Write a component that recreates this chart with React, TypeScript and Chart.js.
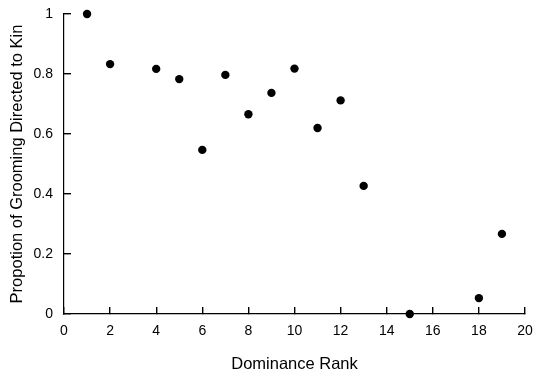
import React, { useEffect, useRef } from "react";
import { Chart, registerables } from "chart.js";

Chart.register(...registerables);

const ranks = [1, 2, 4, 5, 6, 7, 8, 9, 10, 11, 12, 13, 15, 18, 19];
const proportions = [1.0, 0.833, 0.817, 0.783, 0.547, 0.797, 0.666, 0.737, 0.818, 0.62, 0.712, 0.427, 0.0, 0.053, 0.267];
const xTickValues = [0, 2, 4, 6, 8, 10, 12, 14, 16, 18, 20];
const yTickValues = [0, 0.2, 0.4, 0.6, 0.8, 1];
const yTickLabels = ["0", "0.2", "0.4", "0.6", "0.8", "1"];
const xTitle = "Dominance Rank";
const yTitle = "Propotion of Grooming Directed to Kin";

const FONT = "'Liberation Sans', Arial, sans-serif";

const gridOpts = {
  display: true,
  drawOnChartArea: false,
  drawTicks: true,
  tickLength: -7,
  color: "#000",
  tickColor: "#000",
  tickWidth: 1.4,
  lineWidth: 1.4,
};

export default function App() {
  const ref = useRef<HTMLCanvasElement>(null);
  useEffect(() => {
    document.body.style.margin = "0";
    const chart = new Chart(ref.current!, {
      type: "scatter",
      data: {
        datasets: [
          {
            data: ranks.map((r, i) => ({ x: r, y: proportions[i] })),
            backgroundColor: "#000",
            borderColor: "#000",
            borderWidth: 0,
            pointRadius: 4.2,
            clip: false,
          } as any,
        ],
      },
      options: {
        animation: false,
        responsive: false,
        maintainAspectRatio: false,
        layout: { padding: { top: 14, right: 8, left: 0, bottom: 0 } },
        plugins: { legend: { display: false }, tooltip: { enabled: false } },
        scales: {
          x: {
            type: "linear",
            min: 0,
            max: 20,
            afterFit: (s: any) => {
              s.height = 60;
              s.paddingLeft = 0;
              s.paddingRight = 0;
            },
            afterBuildTicks: (s: any) => { s.ticks = xTickValues.map((v) => ({ value: v })); },
            grid: gridOpts,
            border: { display: true, color: "#000", width: 1.2 },
            ticks: {
              padding: 16,
              color: "#000",
              font: { family: FONT, size: 14 },
              maxRotation: 0,
              callback: (v: any) => String(v),
            },
            title: {
              display: true,
              text: xTitle,
              color: "#000",
              font: { family: FONT, size: 16.5 },
              padding: { top: 10, bottom: 0 },
            },
          },
          y: {
            type: "linear",
            min: 0,
            max: 1,
            afterFit: (s: any) => {
              s.width = 64;
              s.paddingTop = 0;
              s.paddingBottom = 0;
            },
            afterBuildTicks: (s: any) => { s.ticks = yTickValues.map((v) => ({ value: v })); },
            grid: gridOpts,
            border: { display: true, color: "#000", width: 1.2 },
            ticks: {
              padding: 18,
              color: "#000",
              font: { family: FONT, size: 14 },
              callback: (v: any) => {
                const i = yTickValues.findIndex((t) => Math.abs(t - v) < 1e-6);
                return i >= 0 ? yTickLabels[i] : "";
              },
            },
            title: {
              display: true,
              text: yTitle,
              color: "#000",
              font: { family: FONT, size: 16.5 },
              padding: { top: 8, bottom: 0 },
            },
          },
        },
      },
    });
    return () => chart.destroy();
  }, []);
  return (
    <div style={{ position: "absolute", left: 0, top: 0, width: 533, height: 374, background: "#fff" }}>
      <canvas ref={ref} width={533} height={374} style={{ width: 533, height: 374 }} />
    </div>
  );
}
